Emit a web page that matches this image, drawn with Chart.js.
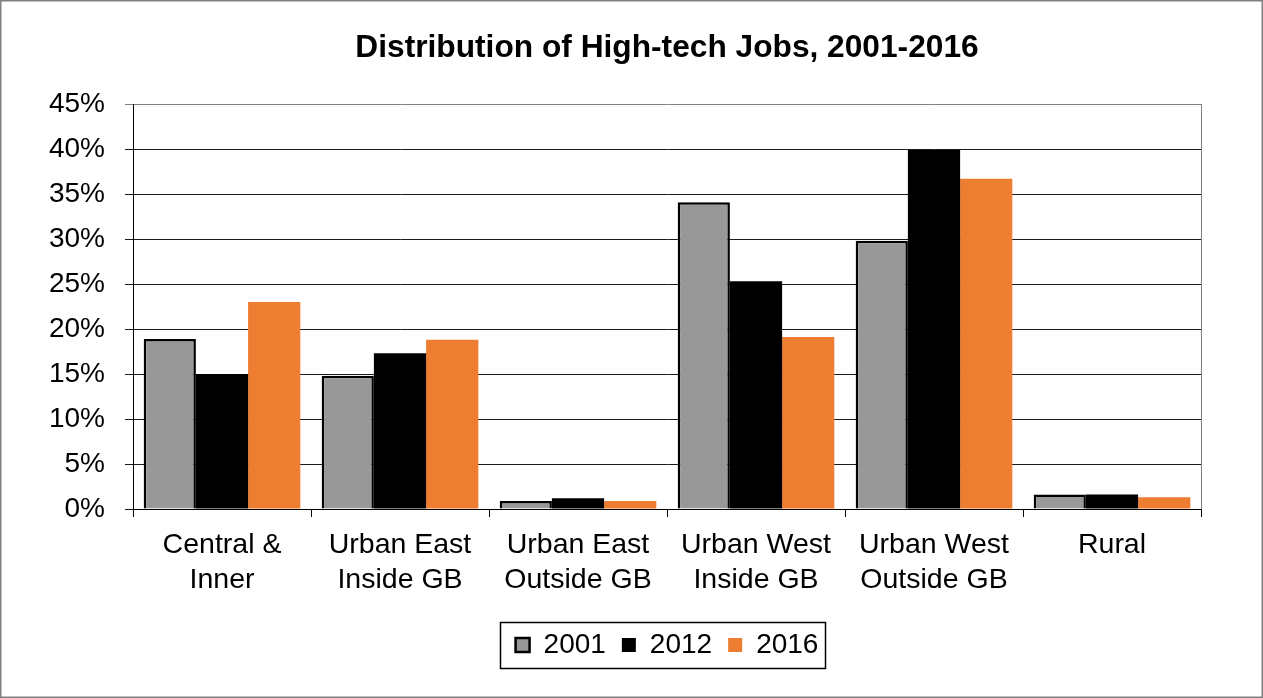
<!DOCTYPE html>
<html><head><meta charset="utf-8">
<script src="https://cdn.jsdelivr.net/npm/chart.js@4"></script>
<style>html,body{margin:0;padding:0;background:#fff}canvas{display:block}</style>
</head><body>
<canvas id="c" width="1263" height="698"></canvas>
<script>
const categories = [["Central &","Inner"],["Urban East","Inside GB"],["Urban East","Outside GB"],["Urban West","Inside GB"],["Urban West","Outside GB"],["Rural"]];
const seriesNames = ["2001","2012","2016"];
const values2001 = [18.9, 14.8, 0.9, 34.1, 29.8, 1.6];
const values2012 = [15.0, 17.3, 1.2, 25.3, 39.9, 1.6];
const values2016 = [23.0, 18.8, 0.9, 19.1, 36.7, 1.3];
const yTickValues = [0, 5, 10, 15, 20, 25, 30, 35, 40, 45];
const titleText = "Distribution of High-tech Jobs, 2001-2016";

const FONT = "'Liberation Sans', Arial, sans-serif";

const decor = {
  id: 'decor',
  afterDraw(chart) {
    const ctx = chart.ctx;
    const a = chart.chartArea;
    ctx.save();
    ctx.strokeStyle = '#808080';
    ctx.lineWidth = 1;
    ctx.beginPath();
    ctx.moveTo(Math.round(a.right) + 0.5, a.top);
    ctx.lineTo(Math.round(a.right) + 0.5, a.bottom);
    ctx.stroke();
    const lg = chart.legend;
    if (lg && lg.legendHitBoxes && lg.legendHitBoxes.length) {
      let l = Infinity, r = -Infinity, t = Infinity, b = -Infinity;
      lg.legendHitBoxes.forEach(h => {
        l = Math.min(l, h.left); r = Math.max(r, h.left + h.width);
        t = Math.min(t, h.top); b = Math.max(b, h.top + h.height);
      });
      const cy = (t + b) / 2;
      ctx.strokeStyle = '#000';
      ctx.lineWidth = 1.5;
      ctx.strokeRect(Math.round(l - 16) + 0.5, Math.round(cy - 23) + 0.5, Math.round(r - l + 22), 46);
    }
    ctx.strokeStyle = '#808080';
    ctx.lineWidth = 1.5;
    ctx.strokeRect(0.75, 0.75, chart.width - 1.5, chart.height - 1.5);
    ctx.restore();
  }
};

new Chart(document.getElementById('c'), {
  type: 'bar',
  data: {
    labels: categories,
    datasets: [
      { label: seriesNames[0], data: values2001, backgroundColor: '#989898', borderColor: '#000', borderWidth: 2.5 },
      { label: seriesNames[1], data: values2012, backgroundColor: '#000', borderColor: '#000', borderWidth: 0 },
      { label: seriesNames[2], data: values2016, backgroundColor: '#ED7D31', borderWidth: 0 }
    ]
  },
  options: {
    responsive: false,
    animation: false,
    devicePixelRatio: 1,
    layout: { padding: { left: 0, right: 62, top: 0, bottom: 29 } },
    datasets: { bar: { categoryPercentage: 0.88, barPercentage: 1.0 } },
    plugins: {
      title: {
        display: true, text: titleText, color: '#000', fullSize: false,
        font: { family: FONT, size: 31.7, weight: 'bold' },
        padding: { top: 29, bottom: 37 }
      },
      legend: {
        position: 'bottom', fullSize: false,
        labels: {
          color: '#000', font: { family: FONT, size: 28 },
          boxWidth: 14, boxHeight: 14, padding: 16
        }
      },
      tooltip: { enabled: false }
    },
    scales: {
      x: {
        grid: { drawOnChartArea: false, color: '#000', tickLength: 8, offset: true },
        border: { color: '#000', width: 1 },
        ticks: { color: '#000', font: { family: FONT, size: 28.5, lineHeight: 1.22 }, padding: 11, maxRotation: 0, autoSkip: false },
        afterFit(s) { s.height = 106; }
      },
      y: {
        min: 0, max: 45,
        grid: { color: (c) => c.tick && c.tick.value === 45 ? '#808080' : '#1a1a1a', tickLength: 8 },
        border: { color: '#000', width: 1 },
        afterBuildTicks(s) { s.ticks = yTickValues.map(v => ({ value: v })); },
        ticks: { color: '#000', font: { family: FONT, size: 28 }, padding: 20, callback: (v) => v + '%' },
        afterFit(s) { s.width = 133; }
      }
    }
  },
  plugins: [decor]
});
</script>
</body></html>
